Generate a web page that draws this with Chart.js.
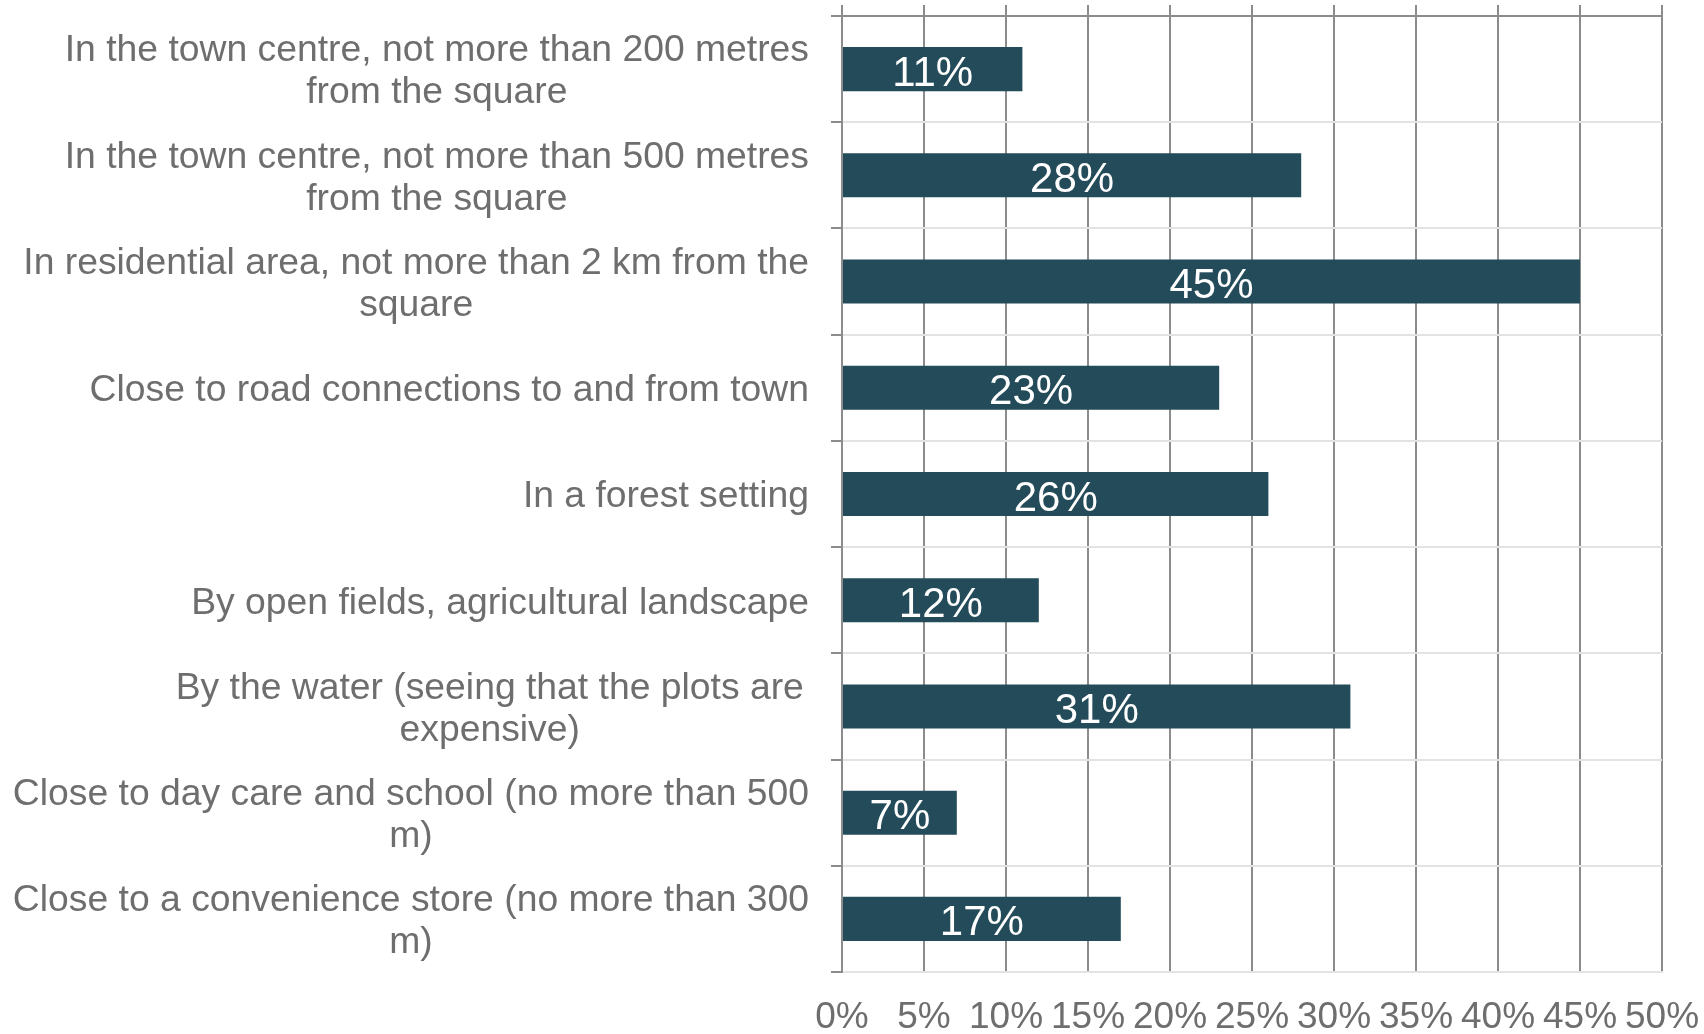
<!DOCTYPE html>
<html>
<head>
<meta charset="utf-8">
<script src="https://cdn.jsdelivr.net/npm/chart.js@4/dist/chart.umd.min.js"></script>
<style>
  body { margin: 0; background: #fff; }
  #wrap { width: 1704px; height: 1034px; position: relative; }
</style>
</head>
<body>
<div id="wrap"><canvas id="locationChart"></canvas></div>
<script>
// Chart data
const categories = [
  ['In the town centre, not more than 200 metres', 'from the square'],
  ['In the town centre, not more than 500 metres', 'from the square'],
  ['In residential area, not more than 2 km from the', 'square'],
  ['Close to road connections to and from town'],
  ['In a forest setting'],
  ['By open fields, agricultural landscape'],
  ['By the water (seeing that the plots are ', 'expensive)'],
  ['Close to day care and school (no more than 500', 'm)'],
  ['Close to a convenience store (no more than 300', 'm)']
];
const shares = [11, 28, 45, 23, 26, 12, 31, 7, 17];
const axisMax = 50;
const axisStep = 5;

const textGrey = '#6e6e6e';
const barColor = '#234b59';
const fontFamily = '"Liberation Sans", Arial, sans-serif';

// Draw category labels: block right-aligned, lines centred on each other
const categoryLabels = {
  id: 'categoryLabels',
  afterDraw(chart) {
    const ctx = chart.ctx;
    const yScale = chart.scales.y;
    const right = 809;
    const lineHeight = 42;
    ctx.save();
    ctx.font = '37.3px ' + fontFamily;
    ctx.fillStyle = textGrey;
    ctx.textAlign = 'center';
    ctx.textBaseline = 'middle';
    categories.forEach((lines, i) => {
      const y = yScale.getPixelForTick(i) + 3;
      const maxW = Math.max(...lines.map(l => ctx.measureText(l).width));
      const cx = right - maxW / 2;
      lines.forEach((line, j) => {
        const ly = y + (j - (lines.length - 1) / 2) * lineHeight;
        ctx.fillText(line.trim(), cx, ly);
      });
    });
    ctx.restore();
  }
};

// Value labels centred inside each bar
const valueLabels = {
  id: 'valueLabels',
  afterDatasetsDraw(chart) {
    const ctx = chart.ctx;
    const meta = chart.getDatasetMeta(0);
    ctx.save();
    ctx.font = '42px ' + fontFamily;
    ctx.fillStyle = '#ffffff';
    ctx.textAlign = 'center';
    ctx.textBaseline = 'middle';
    meta.data.forEach((bar, i) => {
      const cx = (bar.x + bar.base) / 2;
      ctx.fillText(shares[i] + '%', cx, bar.y + 5);
    });
    ctx.restore();
  }
};

const ctx = document.getElementById('locationChart').getContext('2d');
const locationChart = new Chart(ctx, {
  type: 'bar',
  data: {
    labels: categories,
    datasets: [{
      data: shares,
      backgroundColor: barColor,
      barPercentage: 0.415,
      categoryPercentage: 1
    }]
  },
  options: {
    indexAxis: 'y',
    responsive: true,
    maintainAspectRatio: false,
    animation: false,
    layout: { padding: { top: 5, right: 0, left: 0, bottom: 0 } },
    plugins: {
      legend: { display: false },
      tooltip: { enabled: false }
    },
    scales: {
      x: {
        position: 'bottom',
        min: 0,
        max: axisMax,
        ticks: {
          stepSize: axisStep,
          padding: 24,
          color: textGrey,
          font: { family: fontFamily, size: 37 },
          callback: v => v + '%',
          maxRotation: 0
        },
        grid: { color: '#8c8c8c', lineWidth: 2, drawTicks: false },
        border: { color: '#e3e3e3', width: 2 },
        afterFit: scale => {
          scale.height = 62;
          scale.paddingRight = 42;
          scale.paddingLeft = 0;
        }
      },
      x2: {
        position: 'top',
        min: 0,
        max: axisMax,
        ticks: { display: false, stepSize: axisStep },
        grid: { color: '#8c8c8c', lineWidth: 2, drawOnChartArea: false, tickLength: 11 },
        border: { color: '#8c8c8c', width: 2 }
      },
      y: {
        ticks: { display: false },
        grid: {
          offset: true,
          color: '#e3e3e3',
          tickColor: '#8c8c8c',
          lineWidth: 2,
          tickLength: 11
        },
        border: { color: '#8c8c8c', width: 2 },
        afterFit: scale => { scale.width = 842; }
      }
    }
  },
  plugins: [categoryLabels, valueLabels]
});
</script>
</body>
</html>
